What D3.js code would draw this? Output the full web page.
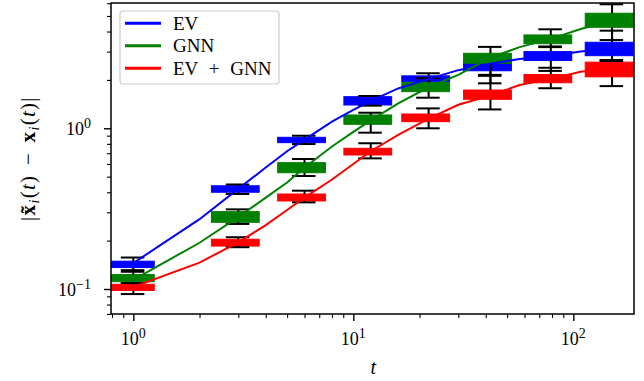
<!DOCTYPE html>
<html>
<head>
<meta charset="utf-8">
<script src="https://cdn.jsdelivr.net/npm/d3@7"></script>
<style>
  body { margin: 0; background: #fff; }
  text { font-family: "Liberation Serif", serif; fill: #000; }
</style>
</head>
<body>
<div id="chart"></div>
<script>
// series
var seriesNames = ["EV", "GNN", "EV + GNN"];

// mean curves
var lineT    = [1, 2, 3, 4, 5, 6, 8, 10, 12, 16, 22, 30, 42, 57, 79, 108, 150];
var lineEV   = [0.145, 0.272, 0.42, 0.57, 0.72, 0.85, 1.10, 1.30, 1.48, 1.77, 2.03, 2.30, 2.52, 2.70, 2.82, 3.00, 3.15];
var lineGNN  = [0.114, 0.194, 0.28, 0.37, 0.46, 0.57, 0.77, 0.95, 1.12, 1.43, 1.80, 2.15, 2.75, 3.20, 3.60, 4.15, 4.70];
var lineBoth = [0.103, 0.146, 0.195, 0.25, 0.31, 0.37, 0.48, 0.60, 0.72, 0.91, 1.15, 1.40, 1.60, 1.86, 2.03, 2.25, 2.37];

// boxes: [whisker low, q1, q3, whisker high]
var boxT = [1, 3, 6, 12, 22, 42, 79, 150];
var boxEV = [
  [0.131, 0.136, 0.149, 0.157], [0.390, 0.400, 0.439, 0.447], [0.798, 0.814, 0.879, 0.899],
  [1.383, 1.396, 1.573, 1.588], [1.85, 1.95, 2.12, 2.20], [1.905, 2.28, 2.60, 2.75],
  [2.275, 2.64, 3.00, 3.20], [2.66, 2.83, 3.43, 4.05]
];
var boxGNN = [
  [0.108, 0.111, 0.123, 0.128], [0.254, 0.260, 0.303, 0.313], [0.505, 0.529, 0.611, 0.644],
  [0.939, 1.059, 1.21, 1.25], [1.55, 1.69, 1.93, 2.05], [2.15, 2.54, 2.93, 3.21],
  [3.23, 3.36, 3.81, 4.13], [3.54, 4.25, 5.20, 5.91]
];
var boxBoth = [
  [0.093, 0.098, 0.107, 0.109], [0.182, 0.185, 0.204, 0.210], [0.346, 0.353, 0.390, 0.409],
  [0.650, 0.682, 0.751, 0.807], [1.00, 1.099, 1.227, 1.33], [1.31, 1.515, 1.73, 2.12],
  [1.775, 1.92, 2.16, 2.38], [1.83, 2.09, 2.58, 2.62]
];

var xMajor = [1, 10, 100];
var xMinor = [0.8, 0.9, 2, 3, 4, 5, 6, 7, 8, 9, 20, 30, 40, 50, 60, 70, 80, 90];
var yMajor = [0.1, 1];
var yMinor = [0.07, 0.08, 0.09, 0.2, 0.3, 0.4, 0.5, 0.6, 0.7, 0.8, 0.9, 2, 3, 4, 5, 6];
var xTickExp = ["0", "1", "2"];
var yTickExp = ["\u22121", "0"];

var colors = ["#0000ff", "#008000", "#ff0000"];
var lines = [lineEV, lineGNN, lineBoth];
var boxes = [boxEV, boxGNN, boxBoth];

var W = 644, H = 381;
var pLeft = 111, pRight = 634, pTop = 3, pBottom = 314;

var svg = d3.select("#chart").append("svg")
  .attr("width", W)
  .attr("height", H);

var x = d3.scaleLog().domain([0.7918, 188.7]).range([pLeft, pRight]);
var y = d3.scaleLog().domain([0.0699, 6.02]).range([pBottom, pTop]);

svg.append("clipPath").attr("id", "clip")
  .append("rect").attr("x", pLeft).attr("y", pTop)
  .attr("width", pRight - pLeft).attr("height", pBottom - pTop);

var plot = svg.append("g").attr("clip-path", "url(#clip)");

// boxplots, one set per series
boxes.forEach(function(set, s) {
  var g = plot.append("g");
  set.forEach(function(b, i) {
    var p = boxT[i], w = 0.49 * p;
    g.append("rect")
      .attr("x", x(p - w / 2))
      .attr("width", x(p + w / 2) - x(p - w / 2))
      .attr("y", y(b[2]))
      .attr("height", y(b[1]) - y(b[2]))
      .attr("fill", colors[s])
      .attr("stroke", colors[s])
      .attr("stroke-width", 1);
    // whiskers
    g.append("line")
      .attr("x1", x(p)).attr("x2", x(p))
      .attr("y1", y(b[1])).attr("y2", y(b[0]))
      .attr("stroke", "#000").attr("stroke-width", 2);
    g.append("line")
      .attr("x1", x(p)).attr("x2", x(p))
      .attr("y1", y(b[2])).attr("y2", y(b[3]))
      .attr("stroke", "#000").attr("stroke-width", 2);
    // caps
    [b[0], b[3]].forEach(function(v) {
      g.append("line")
        .attr("x1", x(p - w / 4)).attr("x2", x(p + w / 4))
        .attr("y1", y(v)).attr("y2", y(v))
        .attr("stroke", "#000").attr("stroke-width", 2);
    });
  });
});

// mean lines
var lineGen = d3.line()
  .x(function(d) { return x(d[0]); })
  .y(function(d) { return y(d[1]); });

lines.forEach(function(vals, s) {
  plot.append("path")
    .datum(lineT.map(function(t, i) { return [t, vals[i]]; }))
    .attr("d", lineGen)
    .attr("fill", "none")
    .attr("stroke", colors[s])
    .attr("stroke-width", 2);
});

// axes
function drawAxis(axis, tr) {
  var g = svg.append("g").attr("transform", tr).call(axis);
  g.select(".domain").remove();
  g.selectAll("line").attr("stroke", "#000").attr("stroke-width", 1.4);
  return g;
}
drawAxis(d3.axisBottom(x).tickValues(xMajor).tickSize(7).tickFormat(""), "translate(0," + pBottom + ")");
drawAxis(d3.axisBottom(x).tickValues(xMinor).tickSize(4).tickFormat(""), "translate(0," + pBottom + ")")
  .selectAll("line").attr("stroke-width", 1.1);
drawAxis(d3.axisLeft(y).tickValues(yMajor).tickSize(7).tickFormat(""), "translate(" + pLeft + ",0)");
drawAxis(d3.axisLeft(y).tickValues(yMinor).tickSize(4).tickFormat(""), "translate(" + pLeft + ",0)")
  .selectAll("line").attr("stroke-width", 1.1);

// frame
svg.append("rect")
  .attr("x", pLeft).attr("y", pTop)
  .attr("width", pRight - pLeft).attr("height", pBottom - pTop)
  .attr("fill", "none").attr("stroke", "#000").attr("stroke-width", 1.5);

// tick labels
function powLabel(sel, exp) {
  sel.append("tspan").text("10");
  sel.append("tspan").attr("dy", -7).attr("font-size", 14).text(exp);
}
xMajor.forEach(function(v, i) {
  var t = svg.append("text")
    .attr("x", x(v)).attr("y", 345)
    .attr("text-anchor", "middle")
    .attr("font-size", 18);
  powLabel(t, xTickExp[i]);
});
yMajor.forEach(function(v, i) {
  var t = svg.append("text")
    .attr("x", 91).attr("y", y(v) + 6.5)
    .attr("text-anchor", "end")
    .attr("font-size", 18);
  powLabel(t, yTickExp[i]);
});

// axis labels
svg.append("text")
  .attr("x", x(10) + 20).attr("y", 374)
  .attr("text-anchor", "middle")
  .attr("font-size", 20)
  .attr("font-style", "italic")
  .text("t");

var yl = svg.append("text")
  .attr("transform", "translate(35," + ((pTop + pBottom) / 2) + ") rotate(-90)")
  .attr("text-anchor", "middle")
  .attr("font-size", 21)
  .attr("letter-spacing", 1.3)
  .attr("word-spacing", 3);
yl.append("tspan").text("|");
yl.append("tspan").attr("font-weight", "bold").text("x\u0303");
yl.append("tspan").attr("font-style", "italic").attr("font-size", 14).attr("dy", 4).text("i");
yl.append("tspan").attr("dy", -4).text("(");
yl.append("tspan").attr("font-style", "italic").text("t");
yl.append("tspan").text(") \u2212 ");
yl.append("tspan").attr("font-weight", "bold").text("x");
yl.append("tspan").attr("font-style", "italic").attr("font-size", 14).attr("dy", 4).text("i");
yl.append("tspan").attr("dy", -4).text("(");
yl.append("tspan").attr("font-style", "italic").text("t");
yl.append("tspan").text(")|");

// legend
var lg = svg.append("g");
lg.append("rect")
  .attr("x", 120).attr("y", 11)
  .attr("width", 159).attr("height", 73)
  .attr("rx", 3)
  .attr("fill", "#fff").attr("fill-opacity", 0.8)
  .attr("stroke", "#cccccc").attr("stroke-width", 1.2);
seriesNames.forEach(function(name, i) {
  var ly = 23.3 + i * 22.5;
  lg.append("line")
    .attr("x1", 125).attr("x2", 161)
    .attr("y1", ly).attr("y2", ly)
    .attr("stroke", colors[i]).attr("stroke-width", 3);
  lg.append("text")
    .attr("x", 173).attr("y", ly + 6.5)
    .attr("font-size", 19)
    .attr("word-spacing", 6)
    .text(name);
});
</script>
</body>
</html>
